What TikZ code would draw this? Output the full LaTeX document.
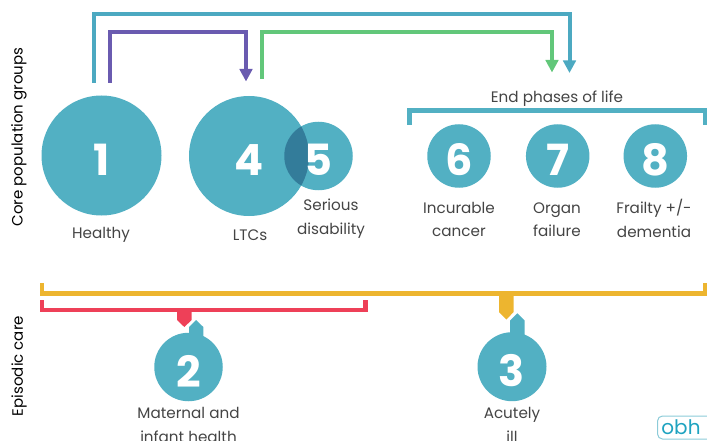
\documentclass[tikz,border=0pt]{standalone}
\usepackage{fontspec}
\setmainfont{Poppins}
\usetikzlibrary{arrows.meta}
\definecolor{tealc}{HTML}{52B0C3}
\definecolor{tealarrow}{HTML}{4CA9C1}
\definecolor{overlapc}{HTML}{337C9A}
\definecolor{purplec}{HTML}{6A5BB0}
\definecolor{greenc}{HTML}{62C77A}
\definecolor{yellowc}{HTML}{EDB52F}
\definecolor{redc}{HTML}{EE4058}
\definecolor{labelc}{HTML}{444444}
\definecolor{logoc}{HTML}{1FA3C0}
\definecolor{logoedge}{HTML}{8CCBD8}
\tikzset{
  x=1pt,y=-1pt,
  disc/.style={circle,fill=tealc,inner sep=0pt,minimum size=#1},
  digit/.style={text=white,font=\fontsize{43}{43}\selectfont\bfseries,inner sep=0pt,yshift=-4pt},
  lbl/.style={text=labelc,font=\fontsize{15.2}{23.5}\selectfont,align=center,inner sep=0pt},
  side/.style={text=black,font=\fontsize{15}{18}\selectfont,rotate=90,inner sep=0pt},
  flow/.style={line width=4pt,miter limit=10,-{Triangle[width=12.5pt,length=12.5pt]}},
  brk/.style={line width=4.2pt,miter limit=10},
}
\begin{document}
\begin{tikzpicture}
\useasboundingbox (0,0) rectangle (707,441);
\clip (0,0) rectangle (707,441);
% side labels
\node[side] (sideA) at (19,137) {Core population groups};
\node[side] (sideB) at (19,366) {Episodic care};
% discs
\node[disc=120pt] (c1) at (101.5,155.5) {};
\node[disc=120pt] (c4) at (249,156) {};
\node[disc=68.5pt] (c5) at (318.5,156) {};
\begin{scope}
  \clip (249,156) circle (60);
  \fill[overlapc] (318.5,156) circle (34.25);
\end{scope}
\node[disc=63.5pt] (c6) at (459,156) {};
\node[disc=63.5pt] (c7) at (557.7,156) {};
\node[disc=63.5pt] (c8) at (655.3,156) {};
\node[disc=68.5pt] (c2) at (188.5,367) {};
\node[disc=69pt] (c3) at (512,366.7) {};
% digits
\node[digit] at (c1) {1};
\node[digit] at (c4) {4};
\node[digit] at (c5) {5};
\node[digit] at (c6) {6};
\node[digit] at (c7) {7};
\node[digit] at (c8) {8};
\node[digit] at (c2) {2};
\node[digit] at (c3) {3};
% labels
\node[lbl] (l1) at (101,235) {Healthy};
\node[lbl] (l4) at (250,235.5) {LTCs};
\node[lbl] (l5) at (331,218.5) {Serious\\disability};
\node[lbl] (l6) at (459,219.5) {Incurable\\cancer};
\node[lbl] (l7) at (557,219.5) {Organ\\failure};
\node[lbl] (l8) at (654,218.5) {Frailty +/-\\dementia};
\node[lbl] (lend) at (557,99) {End phases of life};
\node[lbl] (l2) at (188.5,425) {Maternal and\\infant health};
\node[lbl] (l3) at (512,425) {Acutely\\ill};
% flow arrows
\coordinate (tS) at (93.5,83);
\coordinate (tE) at (569.5,73);
\coordinate (pS) at (110,83);
\coordinate (pE) at (246,81.5);
\coordinate (gS) at (262,79);
\coordinate (gE) at (552,72.5);
\draw[flow,draw=tealarrow] (tS) |- (300,14.5) -| (tE);
\draw[flow,draw=purplec] (pS) |- (180,32) -| (pE);
\draw[flow,draw=greenc] (gS) |- (400,32) -| (gE);
% end-phase bracket
\coordinate (eA) at (409.5,125);
\coordinate (eB) at (705,125);
\draw[brk,draw=tealc,line width=4.6pt] (eA) |- (557,110.5) -| (eB);
% episodic brackets
\coordinate (yA) at (42.3,283);
\coordinate (yB) at (705.5,283);
\coordinate (rA) at (42.3,300);
\coordinate (rB) at (365.5,300);
\draw[brk,draw=yellowc] (yA) |- (400,293.5) -| (yB);
\draw[brk,draw=redc] (rA) |- (200,310) -| (rB);
% tabs
\fill[redc] (177,310) -- (191.7,310) -- (191.7,320) -- (184.3,327) -- (177,320) -- cycle;
\fill[yellowc] (499,293) -- (513.7,293) -- (513.7,312) -- (506.3,319.5) -- (499,312) -- cycle;
\fill[tealc] (189,340) -- (189,327) -- (196,320) -- (203.3,327) -- (203.3,340) -- cycle;
\fill[tealc] (510,340) -- (510,320.5) -- (517.4,313.3) -- (524.7,320.5) -- (524.7,340) -- cycle;
% logo
\node[draw=logoedge,line width=1pt,rounded corners=5pt,text=logoc,font=\fontsize{20}{20}\selectfont,minimum width=56pt,minimum height=23pt,inner sep=0pt,anchor=west] (logo) at (657,427.5) {\hspace*{-9pt}obh};
\end{tikzpicture}
\end{document}
